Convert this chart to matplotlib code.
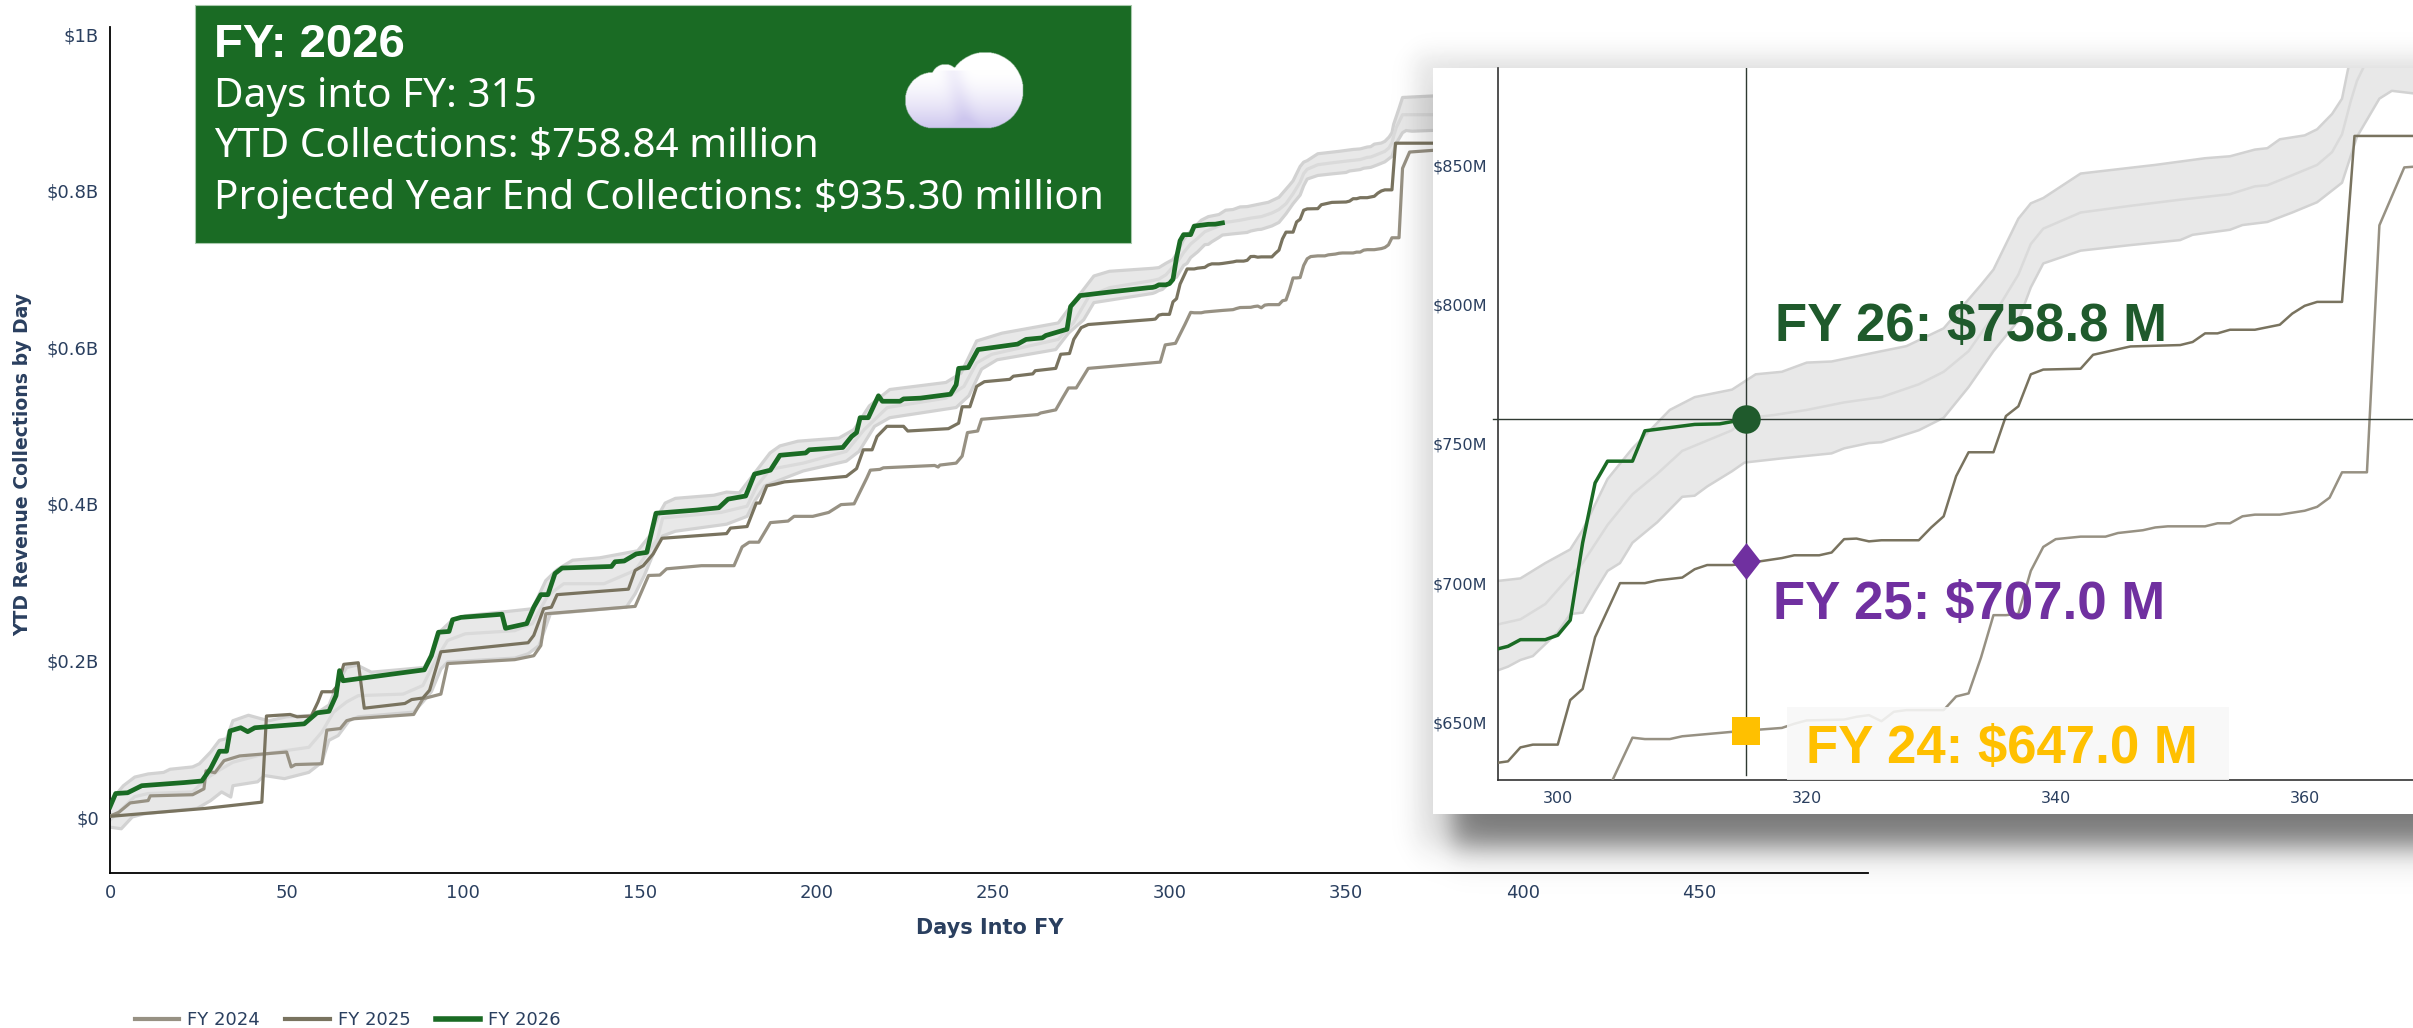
#!/usr/bin/env python3
"""YTD revenue collections by day, with zoomed inset on the current day."""

import numpy as np
import matplotlib.pyplot as plt
from matplotlib.patches import Rectangle
from matplotlib.lines import Line2D
from matplotlib.path import Path

W, H = 2413, 1028

# ---- data, $B ----
fy26_days = [0, 1.6, 5, 9, 21, 26, 28.5, 31, 33, 34, 37, 39, 41, 55, 58.6, 62, 64, 65, 66, 79, 89, 91, 93, 96, 97,
             99.4, 111, 112, 118, 120, 122, 124, 126, 128, 142, 143, 145.6, 149, 152, 154.6, 166, 172.4, 175, 180,
             182.5, 187, 189.7, 197, 198, 207.5, 210, 211.4, 212.4, 214.7, 217.6, 218.7, 223.7, 224.7, 229.5, 238,
             239.6, 240.3, 243, 245.8, 257, 259.4, 264, 265, 271, 272, 274.7, 284, 294, 295.2, 296, 297, 299, 300,
             301, 302, 303, 304, 306, 307, 311, 313, 315]
fy26_vals = [.013, .03, .031, .04, .044, .046, .062, .084, .084, .11, .114, .109, .114, .119, .133, .135, .155, .187,
             .174, .182, .188, .206, .236, .237, .252, .255, .259, .241, .247, .268, .284, .284, .311, .318, .32,
             .326, .327, .336, .338, .388, .392, .395, .406, .41, .438, .443, .462, .465, .469, .472, .486, .491,
             .51, .51, .538, .531, .531, .534, .535, .54, .552, .573, .574, .597, .604, .61, .612, .615, .623, .652,
             .666, .671, .676, .6764, .6773, .6797, .6797, .6813, .6867, .7145, .736, .7438, .7438, .7547, .757,
             .7572, .7588]

fy25_days = [0.4, 27, 43, 44.3, 51, 53, 57, 58.9, 60, 63, 64.5, 66.2, 70.3, 72, 83.5, 85.4, 88.6, 90.5, 93.7, 118.4,
             120, 122.8, 125, 126.6, 146.8, 148.7, 151, 153.8, 156.3, 174.6, 175.7, 180.4, 183, 184, 186, 188.3,
             191, 208.5, 211.4, 213.3, 215.8, 217.2, 220, 224.7, 225.9, 237.4, 240.3, 241.3, 243.5, 245.4, 247.6,
             254.8, 255.8, 261.3, 262, 267.8, 269.2, 271.7, 272.9, 275, 277, 295.2, 296, 297, 298, 300, 301, 302,
             303, 305, 307, 308, 310, 311, 312, 314, 315, 318, 319, 321, 322, 323, 324, 325, 326, 329, 330, 331,
             332, 333, 335, 336, 337, 338, 339, 342, 343, 344, 346, 350, 351, 352, 353, 354, 356, 358, 359, 360,
             361, 363, 364, 380]
fy25_vals = [.001, .011, .019, .129, .131, .128, .129, .147, .16, .16, .168, .195, .197, .139, .145, .15, .152, .162,
             .211, .2226, .232, .266, .268, .284, .291, .315, .321, .336, .356, .362, .369, .371, .401, .401, .423,
             .425, .428, .435, .445, .469, .469, .486, .499, .499, .493, .496, .503, .524, .524, .55, .556, .559,
             .563, .566, .57, .573, .591, .592, .61, .625, .629, .6355, .636, .641, .642, .642, .658, .662, .6806,
             .7, .7, .701, .702, .705, .7065, .7065, .707, .709, .71, .71, .711, .7158, .716, .715, .7154, .7154,
             .72, .724, .7384, .747, .747, .76, .7635, .775, .7767, .777, .782, .783, .785, .7855, .7866, .7897,
             .7897, .791, .791, .7928, .7968, .7996, .801, .801, .8606, .8606]

fy24_days = [0.4, 2.5, 5.7, 10.8, 11.4, 23.4, 26.6, 27.2, 29.7, 32.3, 36.7, 50, 51.3, 52.5, 60, 61.4, 65.2, 67, 69,
             86, 88.6, 93.7, 95.6, 114.6, 120, 122, 123.4, 148.7, 152.5, 155.7, 157.6, 167.5, 176.7, 179, 181,
             183.7, 187, 192, 193.7, 199, 203.5, 207, 210.7, 214.3, 215.3, 218, 219, 233.5, 234.5, 235, 239.6,
             241.3, 242.8, 245.7, 246.8, 262.7, 263.5, 267.8, 269.7, 271.4, 273.6, 277, 297.4, 298.8, 301.7, 304.4,
             306, 307, 309, 310, 315, 318, 319, 320, 323, 324, 325, 326, 327, 328, 331, 332, 333, 334, 335, 336,
             337, 338, 339, 340, 342, 344, 345, 347, 348, 349, 352, 353, 354, 355, 356, 358, 360, 361, 362, 363,
             365, 366, 368, 375]
fy24_vals = [.002, .006, .018, .021, .027, .0285, .036, .059, .0566, .072, .078, .083, .064, .067, .068, .111, .113,
             .123, .1255, .131, .151, .157, .196, .201, .206, .219, .2596, .269, .3085, .309, .317, .321, .321, .345,
             .351, .351, .376, .378, .384, .384, .389, .399, .4, .433, .443, .444, .446, .449, .447, .4495, .452,
             .461, .491, .493, .508, .514, .516, .52, .535, .548, .548, .573, .581, .603, .605, .6293, .6445, .644,
             .644, .645, .647, .648, .6495, .6507, .651, .652, .6526, .6504, .6538, .6544, .6544, .6593, .6604,
             .6733, .6885, .6885, .689, .7044, .713, .7158, .7167, .7167, .718, .719, .72, .7204, .7204, .7215,
             .7215, .724, .7246, .7246, .726, .7274, .7307, .7398, .7398, .8285, .8493, .8516]

upper_days = [0.6, 3.8, 7, 10.8, 15.2, 17, 23.4, 25.3, 28.5, 31, 33, 34.8, 39.2, 42.4, 45, 50, 57.6, 62, 64.6, 67,
              70, 74, 89, 91.8, 93.7, 96.8, 100.6, 111.4, 119.6, 123.4, 126.6, 131, 138.6, 149.4, 153, 155.7, 157.2,
              160.1, 171, 174.6, 178.2, 181.8, 186.9, 189.7, 194.8, 206.4, 210.7, 215, 220.8, 236.7, 241, 245.4,
              252.6, 268.5, 272.8, 278.6, 283, 295.2, 297, 299, 301, 302, 304, 306, 309, 311, 314, 315.9, 318, 320,
              322, 326, 328, 331, 334, 335, 337, 338, 339, 342, 348, 352, 354, 356, 357, 358, 360, 361, 362.2, 363,
              363.5, 365, 366, 375]
upper_vals = [.023, .04, .051, .055, .057, .061, .064, .068, .083, .098, .1, .123, .13, .126, .123, .128, .13, .143,
              .172, .191, .194, .185, .191, .215, .238, .251, .257, .262, .266, .302, .316, .328, .331, .34, .36,
              .389, .401, .407, .411, .415, .414, .435, .465, .474, .48, .484, .495, .525, .546, .555, .567, .608,
              .618, .631, .657, .691, .697, .7008, .7017, .7072, .7121, .7191, .7374, .7484, .7622, .7668, .7695,
              .775, .7759, .7792, .7796, .7833, .7851, .7915, .8071, .8126, .8309, .8364, .8383, .8471, .8502,
              .8526, .8533, .8557, .8562, .8594, .8608, .863, .8685, .874, .885, .905, .919, .921]

mid_days = [0, 7, 10.8, 23.4, 27.2, 31, 34.8, 42.4, 50, 56.3, 60, 63.3, 67, 70.3, 83, 88.6, 92.4, 95.6, 100.6, 114.6,
            119.6, 124, 128.5, 139.9, 148.7, 155, 156.5, 173, 180.4, 183.2, 186.9, 196.3, 208.5, 213.6, 220.1,
            236.7, 241.8, 245.4, 249.7, 268.5, 272.8, 277.2, 283, 295.2, 297, 299, 301, 302, 304, 306, 308, 310,
            312, 314, 315, 317.4, 320, 323, 326, 329, 331, 333, 335, 337, 338, 339, 342, 346, 350, 354, 356, 357,
            359, 361, 362.2, 363, 363.7, 364.2, 366, 375]
mid_vals = [-.004, .026, .03, .032, .049, .06, .07, .079, .085, .089, .1085, .134, .147, .155, .157, .168, .202,
            .2255, .234, .238, .247, .283, .298, .298, .315, .355, .382, .389, .397, .423, .444, .452, .467, .495,
            .523, .535, .55, .58, .591, .61, .631, .665, .676, .6852, .687, .6925, .7026, .7072, .7209, .7319,
            .7393, .7475, .7512, .7549, .7591, .7604, .7622, .7649, .7668, .7714, .7759, .7833, .7961, .8108, .8218,
            .8273, .8331, .8355, .8377, .8397, .8425, .8429, .8465, .8502, .8548, .8612, .8731, .8804, .897, .897]

lower_days = [0, 3.2, 6.3, 9.5, 24.7, 28.5, 31.6, 34.2, 34.8, 41.8, 43.7, 49.4, 56.3, 60, 62, 64.6, 67.7, 70.3, 86,
              88.6, 91, 93.7, 95.6, 114.6, 118.4, 121.5, 124.7, 146.2, 148.7, 151.3, 155, 156.5, 160.1, 174.6, 180.4,
              182.5, 185.4, 196.3, 208.5, 212.1, 216.5, 220.8, 239.6, 243.2, 246.8, 251.2, 267.8, 271.4, 275.7, 278.6,
              295.2, 296, 297, 298, 300, 301, 302, 303, 304, 305, 306, 308, 310, 311, 312, 314, 315, 318, 322, 323,
              325, 326, 329, 331, 333, 335, 337, 338, 339, 342, 346, 350, 351, 354, 355, 357, 359, 361, 362.2, 363,
              364.2, 366, 367, 368.7, 375]
lower_vals = [-.013, -.015, 0, .004, .011, .021, .032, .0255, .04, .045, .053, .049, .057, .07, .098, .104, .123,
              .128, .134, .147, .16, .189, .198, .203, .2085, .219, .2596, .268, .285, .3085, .349, .359, .365, .374,
              .384, .403, .423, .442, .4545, .467, .499, .51, .523, .538, .572, .584, .597, .618, .635, .657, .6687,
              .67, .6724, .6738, .6824, .6889, .6894, .6971, .7044, .7072, .7145, .7219, .731, .7314, .7347, .7402,
              .7433, .7448, .7466, .7484, .7503, .7506, .7549, .7594, .7704, .7833, .7943, .8062, .8148, .8194,
              .8214, .8232, .8251, .8269, .8286, .8297, .8331, .8368, .841, .8438, .8603, .874, .8768, .8759, .877]

x_ticks = [0, 50, 100, 150, 200, 250, 300, 350, 400, 450]
y_ticks = [0, 0.2, 0.4, 0.6, 0.8, 1.0]
y_labels = ['$0', '$0.2B', '$0.4B', '$0.6B', '$0.8B', '$1B']
inset_x_ticks = [300, 320, 340, 360]
inset_y_ticks = [0.65, 0.70, 0.75, 0.80, 0.85]
inset_y_labels = ['$650M', '$700M', '$750M', '$800M', '$850M']

current_day = 315.15
fy26_now, fy25_now, fy24_now = 0.7588, 0.7078, 0.647

# ---- colours ----
INK = '#2a3f5f'
C24, C25, C26 = '#979183', '#79735f', '#1a6b24'
DK26, PURPLE, GOLD = '#1f5a2c', '#7030a0', '#ffc000'
BOX_FONT = 'Noto Sans'
BOLD_FONT = 'Liberation Sans'


def frac(x0, y0, x1, y1):
    # pixel box (from top left) to figure rect
    return [x0 / W, 1 - y1 / H, (x1 - x0) / W, (y1 - y0) / H]


def draw_series(ax, lw_band, lw_grey, lw_green):
    ax.fill(list(upper_days) + list(lower_days[::-1]), list(upper_vals) + list(lower_vals[::-1]),
            color='#e8e8e8', lw=0, zorder=1)
    ax.plot(upper_days, upper_vals, color='#d2d2d2', lw=lw_band, zorder=2)
    ax.plot(lower_days, lower_vals, color='#d2d2d2', lw=lw_band, zorder=2)
    ax.plot(mid_days, mid_vals, color='#dadada', lw=lw_band, zorder=2)
    ax.plot(fy24_days, fy24_vals, color=C24, lw=lw_grey, zorder=3)
    ax.plot(fy25_days, fy25_vals, color=C25, lw=lw_grey, zorder=3)
    ax.plot(fy26_days, fy26_vals, color=C26, lw=lw_green, zorder=4)


fig = plt.figure(figsize=(W / 100, H / 100), dpi=100, facecolor='white')

# ---- main chart ----
ax = fig.add_axes(frac(110, 27, 1868, 873), zorder=0)
draw_series(ax, 2.3, 2.3, 3.4)
ax.set_xlim(0, 497.8)
ax.set_ylim(-0.0715, 1.009)
ax.set_xticks(x_ticks)
ax.set_yticks(y_ticks)
ax.set_yticklabels(y_labels)
ax.tick_params(length=0, labelsize=13, labelcolor=INK, pad=8)
for s in ['top', 'right']:
    ax.spines[s].set_visible(False)
for s in ['left', 'bottom']:
    ax.spines[s].set_linewidth(1.3)
fig.text(990 / W, 1 - 928 / H, 'Days Into FY', fontsize=15, fontweight='bold', color=INK, ha='center', va='center')
fig.text(23 / W, 1 - 464 / H, 'YTD Revenue Collections by Day', fontsize=13.6, fontweight='bold', color=INK,
         rotation=90, ha='center', va='center')

handles = [Line2D([], [], color=C24, lw=3), Line2D([], [], color=C25, lw=3), Line2D([], [], color=C26, lw=4)]
fig.legend(handles, ['FY 2024', 'FY 2025', 'FY 2026'], loc='center left', bbox_to_anchor=(135 / W, 1 - 1020 / H),
           ncol=3, frameon=False, fontsize=13, labelcolor=INK, handlelength=2.45, handletextpad=0.45,
           columnspacing=1.4, borderpad=0, borderaxespad=0)

# ---- summary box ----
fig.add_artist(Rectangle((195 / W, 1 - 243 / H), 936 / W, 238 / H, transform=fig.transFigure,
                         facecolor=C26, edgecolor='#a9c9ad', lw=0.8, zorder=8))
box_lines = ['Days into FY: 315', 'YTD Collections: $758.84 million', 'Projected Year End Collections: $935.30 million']
fig.text(214 / W, 1 - 45 / H, 'FY: 2026', fontsize=34, fontweight='bold', color='white', family=BOLD_FONT,
         va='center', zorder=9)
for line, y in zip(box_lines, [97, 147, 199]):
    fig.text(214 / W, 1 - y / H, line, fontsize=29.2, color='white', family=BOX_FONT, va='center', zorder=9)

# cloud icon
cx0, cy0, cx1, cy1 = 900, 48, 1028, 132
cloud_ax = fig.add_axes(frac(cx0, cy0, cx1, cy1), zorder=9)
cloud_ax.axis('off')
yy, xx = np.mgrid[cy0:cy1:0.5, cx0:cx1:0.5]
mask = (((xx - 985) ** 2 / 38 ** 2 + (yy - 90) ** 2 / 38 ** 2) < 1) | (((xx - 933) ** 2 + (yy - 100) ** 2) < 28 ** 2) | \
       (((xx - 945) ** 2 + (yy - 78) ** 2) < 14 ** 2) | ((xx > 933) & (xx < 985) & (yy > 95) & (yy < 128))
mask &= yy < 128
t = np.clip((yy - 70) / 58, 0, 1) ** 1.6
crease = np.exp(-((xx - 955 - (yy - 80) * 0.25) ** 2) / 120) * (yy > 70) * 0.25
t = np.clip(t + crease, 0, 1)
rgba = np.zeros(xx.shape + (4,))
for i, c in enumerate([205, 198, 238]):
    rgba[..., i] = (255 + (c - 255) * t) / 255
rgba[..., 3] = mask
cloud_ax.imshow(rgba, extent=(cx0, cx1, cy1, cy0), interpolation='bilinear', aspect='auto')

# ---- inset shadow ----
sx0, sy0, sx1, sy1 = 1370, 20, 2413, 900
shadow_ax = fig.add_axes(frac(sx0, sy0, sx1, sy1), zorder=5)
shadow_ax.axis('off')
yy, xx = np.mgrid[sy0:sy1, sx0:sx1]


def soft(v, s):
    return 1 / (1 + np.exp(-v / s))


hard = 0.55 * soft(xx - 1452, 8) * soft(yy - 90, 7) * soft(846 - yy, 9)
light = 0.12 * soft(xx - 1415, 7) * soft(yy - 55, 7) * soft(846 - yy, 10)
alpha = 1 - (1 - hard) * (1 - light)
rgba = np.zeros(xx.shape + (4,))
rgba[..., :3] = 0.12
rgba[..., 3] = alpha
shadow_ax.imshow(rgba, extent=(sx0, sx1, sy1, sy0), aspect='auto')

# ---- inset ----
fig.add_artist(Rectangle((1433 / W, 1 - 814 / H), (W - 1433) / W, 746 / H, transform=fig.transFigure,
                         facecolor='white', edgecolor='none', zorder=6))
inset = fig.add_axes(frac(1498, 68, 2413, 780), zorder=7)
inset.patch.set_alpha(0)
draw_series(inset, 1.8, 1.8, 2.5)
inset.set_xlim(295.2, 368.7)
inset.set_ylim(0.6293, 0.885)
inset.set_xticks(inset_x_ticks)
inset.set_yticks(inset_y_ticks)
inset.set_yticklabels(inset_y_labels)
inset.tick_params(length=0, labelsize=11.5, labelcolor=INK, pad=8)
for s in ['top', 'right']:
    inset.spines[s].set_visible(False)
for s in ['left', 'bottom']:
    inset.spines[s].set_linewidth(1.2)
    inset.spines[s].set_color('#333333')

tall_diamond = Path([(0, 1), (0.78, 0), (0, -1), (-0.78, 0), (0, 1)], closed=True)
inset.axvline(current_day, ymin=0.007, color='#2f3a32', lw=1.0, zorder=5)
inset.plot([294.8, 368.7], [fy26_now, fy26_now], color='#2f3a32', lw=1.0, zorder=5, clip_on=False)
inset.plot([current_day], [fy26_now], marker='o', ms=20.5, color=DK26, mew=0, zorder=6)
inset.plot([current_day], [fy25_now], marker=tall_diamond, ms=26.5, color=PURPLE, mew=0, zorder=6)
inset.plot([current_day], [fy24_now], marker='s', ms=20, color=GOLD, mew=0, zorder=6)

fig.add_artist(Rectangle((1787 / W, 1 - 780 / H), 442 / W, 73 / H, transform=fig.transFigure,
                         facecolor='#f8f8f8', edgecolor='none', alpha=0.88, zorder=8))
fig.text(1775 / W, 1 - 327 / H, 'FY 26: $758.8 M', fontsize=38, fontweight='bold', color=DK26, family=BOLD_FONT,
         va='center', zorder=9)
fig.text(1773 / W, 1 - 605 / H, 'FY 25: $707.0 M', fontsize=38, fontweight='bold', color=PURPLE, family=BOLD_FONT,
         va='center', zorder=9)
fig.text(1806 / W, 1 - 749 / H, 'FY 24: $647.0 M', fontsize=38, fontweight='bold', color=GOLD, family=BOLD_FONT,
         va='center', zorder=9)

plt.savefig('out.png', dpi=100)
